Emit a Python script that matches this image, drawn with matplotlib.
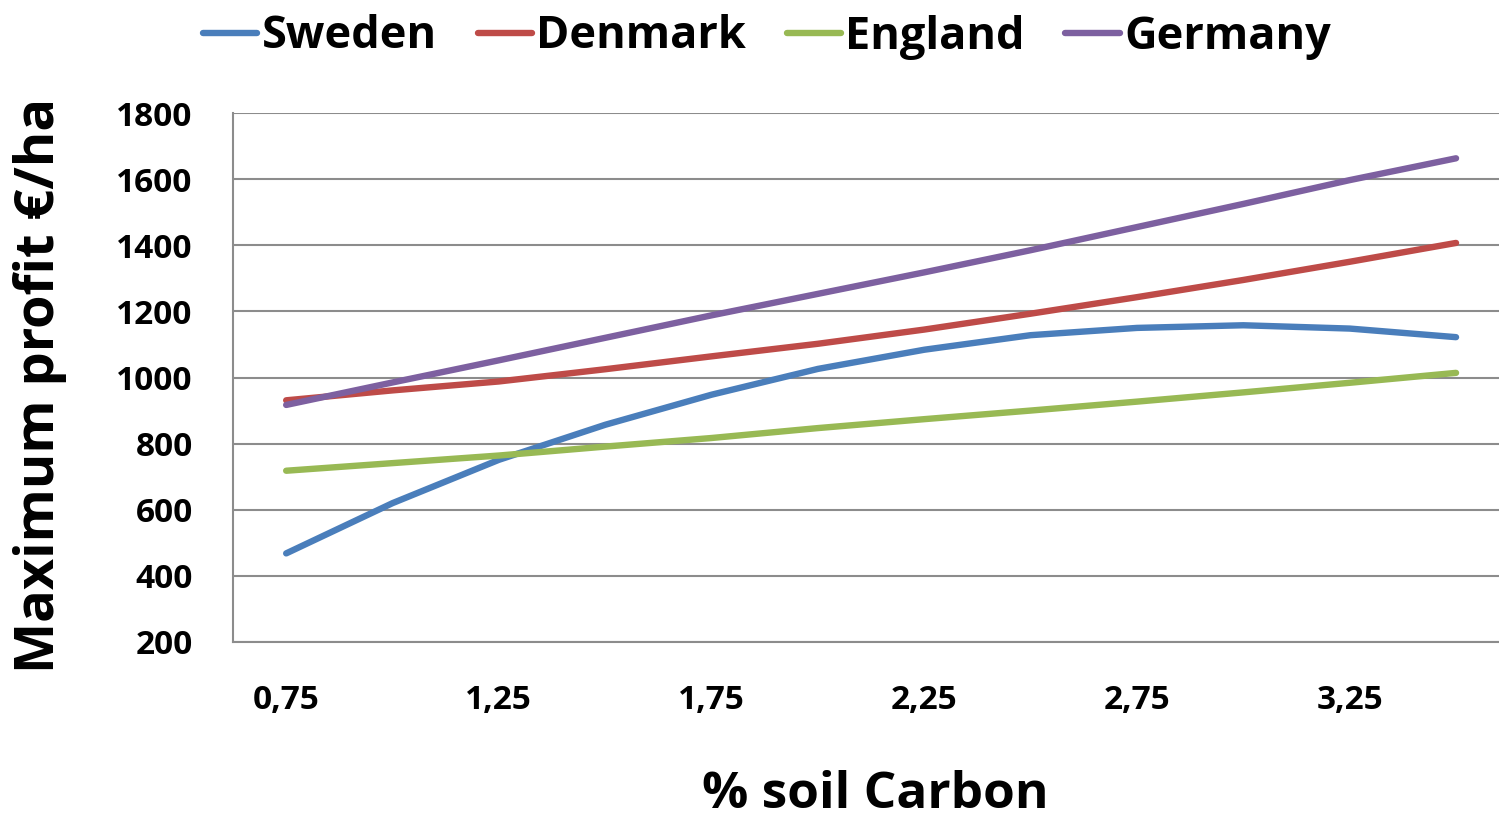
import matplotlib
matplotlib.use("Agg")
import matplotlib.pyplot as plt
from matplotlib.lines import Line2D

carbon = [0.75, 1.0, 1.25, 1.5, 1.75, 2.0, 2.25, 2.5, 2.75, 3.0, 3.25, 3.5]
sweden = [468, 620, 751, 857, 948, 1026, 1084, 1128, 1150, 1158, 1148, 1122]
denmark = [931, 961, 988, 1025, 1064, 1102, 1145, 1193, 1243, 1295, 1350, 1407]
england = [718, 741, 764, 791, 817, 847, 874, 900, 927, 955, 984, 1014]
germany = [917, 985, 1052, 1120, 1188, 1253, 1318, 1385, 1455, 1525, 1597, 1663]

xtick_vals = [0.75, 1.25, 1.75, 2.25, 2.75, 3.25]
xtick_labels = ["0,75", "1,25", "1,75", "2,25", "2,75", "3,25"]
ytick_vals = [200, 400, 600, 800, 1000, 1200, 1400, 1600, 1800]

series = [("Sweden", sweden, "#4a7ebb"),
          ("Denmark", denmark, "#be4b48"),
          ("England", england, "#98b954"),
          ("Germany", germany, "#7d60a0")]

plt.rcParams['font.family'] = ['Open Sans', 'DejaVu Sans']

W, H = 1499, 825
fig = plt.figure(figsize=(W / 100, H / 100), dpi=100)
ax = fig.add_axes([233 / W, (H - 642) / H, (W - 233) / W, (642 - 113) / H])

for name, vals, col in series:
    ax.plot(carbon, vals, color=col, lw=4.6, solid_capstyle='round',
            solid_joinstyle='round', label=name, zorder=3)

ax.set_xlim(0.625, 3.601)
ax.set_ylim(200, 1800)
ax.set_yticks(ytick_vals)
ax.set_yticklabels([str(v) for v in ytick_vals])
ax.set_xticks(xtick_vals)
ax.set_xticklabels(xtick_labels)
ax.tick_params(axis='both', length=0, labelsize=24)
ax.tick_params(axis='y', pad=29)
ax.tick_params(axis='x', pad=30)
for lab in ax.get_xticklabels() + ax.get_yticklabels():
    lab.set_fontweight('bold')

ax.grid(axis='y', color='#8c8c8c', lw=1.5, zorder=1)
for s in ['top', 'right']:
    ax.spines[s].set_visible(False)
for s in ['left', 'bottom']:
    ax.spines[s].set_color('#8c8c8c')
    ax.spines[s].set_linewidth(1.5)

fig.text(40 / W, 1 - 385 / H, "Maximum profit €/ha", rotation=90, ha='center',
         va='center', fontsize=39, fontweight='bold')
fig.text(875 / W, 1 - 795 / H, "% soil Carbon", ha='center', va='center',
         fontsize=37, fontweight='bold')

handles = [Line2D([], [], color=c, lw=4.6, solid_capstyle='round') for _, _, c in series]
leg = fig.legend(handles, [n for n, _, _ in series], loc='center',
                 bbox_to_anchor=(767 / W, 1 - 37 / H), ncol=4, frameon=False,
                 prop={'size': 32.5, 'weight': 'bold'}, handlelength=1.2,
                 handletextpad=0.1, columnspacing=0.9)

fig.savefig("out.png", dpi=100)
